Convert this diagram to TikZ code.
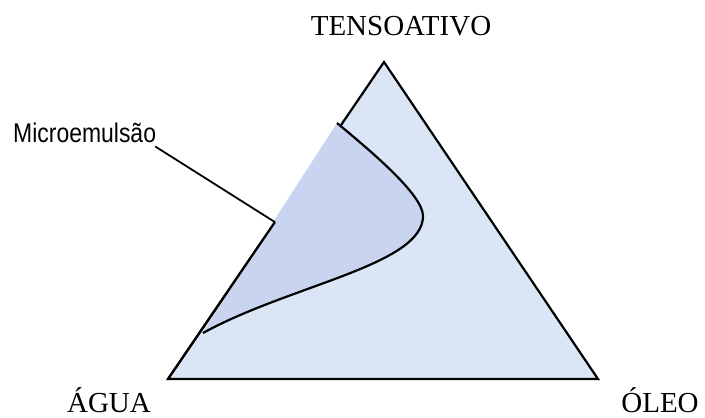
\documentclass[tikz,border=0pt]{standalone}
\usepackage{fontspec}
\setmainfont{Liberation Serif}
\newfontfamily\narrowsans[FakeStretch=0.85]{Liberation Sans}
\usetikzlibrary{calc}
\definecolor{triFill}{HTML}{DAE5F5}
\definecolor{microFill}{HTML}{C9D4F1}
\tikzset{
  vertex/.style={font=\fontsize{29bp}{32bp}\selectfont, inner sep=0pt},
  tag/.style={font=\narrowsans\fontsize{27bp}{29bp}\selectfont, inner sep=0pt},
  edge/.style={draw=black, line width=2.2bp, line join=miter},
  border/.style={draw=black, line width=2.2bp},
  leader/.style={draw=black, line width=1.8bp},
}

\begin{document}
\begin{tikzpicture}[x=1bp,y=-1bp]
  \useasboundingbox (0,0) rectangle (705,417);
  % corners of the diagram
  \coordinate (top) at (384,62);
  \coordinate (water) at (168,379);
  \coordinate (oil) at (598,379);
  \filldraw[edge,fill=triFill] (top) -- (oil) -- (water) -- cycle;
  % microemulsion region
  \coordinate (mstart) at (337,123);
  \coordinate (mtip) at (423,216);
  \coordinate (mend) at (203,333);
  \coordinate (gapend) at ($(top)!0.505!(water)$);
  \fill[microFill] (mstart) .. controls (372,152) and (423,195) .. (mtip)
    .. controls (423,265) and (290,285) .. (mend) -- ($(gapend)+(-2,0)$) -- cycle;
  \draw[edge] (gapend) -- (water);
  \draw[border] (mstart) .. controls (372,152) and (423,195) .. (mtip)
    .. controls (423,265) and (290,285) .. (mend);
  % labels
  \node[vertex,anchor=base] (tenso) at (401,35) {TENSOATIVO};
  \node[vertex,anchor=base] (agua) at (109,412) {ÁGUA};
  \node[vertex,anchor=base] (oleo) at (660,412) {ÓLEO};
  \node[tag,anchor=base west] (micro) at (13,142) {Microemulsão};
  \draw[leader] ($(micro.south east)+(-1,4)$) -- (gapend);
\end{tikzpicture}
\end{document}
